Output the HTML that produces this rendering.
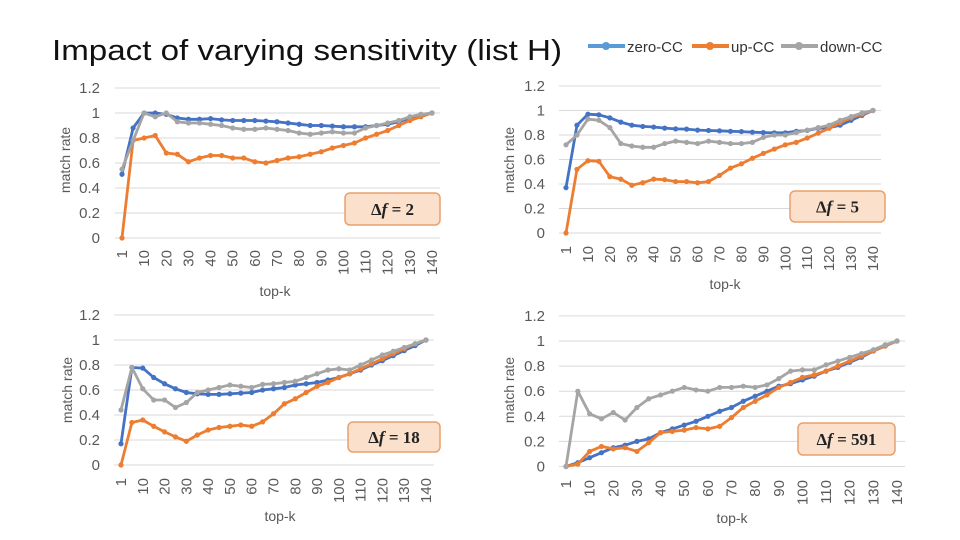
<!DOCTYPE html>
<html><head><meta charset="utf-8"><style>
body{margin:0;background:#fff;width:960px;height:540px;overflow:hidden;font-family:"Liberation Sans",sans-serif}
svg{display:block}
</style></head><body>
<svg id="s" width="960" height="540" viewBox="0 0 960 540">
<text x="52" y="60" font-size="29" fill="#111" textLength="510" lengthAdjust="spacingAndGlyphs">Impact of varying sensitivity (list H)</text>
<g>
<g><line x1="588" y1="46" x2="625" y2="46" stroke="#5b9bd5" stroke-width="4"/><circle cx="606" cy="46" r="4" fill="#5b9bd5"/><text x="627" y="52" font-size="15" fill="#333">zero-CC</text></g>
<g><line x1="692" y1="46" x2="729" y2="46" stroke="#ed7d31" stroke-width="4"/><circle cx="710" cy="46" r="4" fill="#ed7d31"/><text x="731" y="52" font-size="15" fill="#333">up-CC</text></g>
<g><line x1="781" y1="46" x2="818" y2="46" stroke="#a5a5a5" stroke-width="4"/><circle cx="799" cy="46" r="4" fill="#a5a5a5"/><text x="820" y="52" font-size="15" fill="#333">down-CC</text></g>
</g>
</svg>
<script>
const categories=[1,5,10,15,20,25,30,35,40,45,50,55,60,65,70,75,80,85,90,95,100,105,110,115,120,125,130,135,140];
const tickLabels=["1","10","20","30","40","50","60","70","80","90","100","110","120","130","140"];
const yTicks=[0,0.2,0.4,0.6,0.8,1,1.2];
const yTickLabels=["0","0.2","0.4","0.6","0.8","1","1.2"];
const deltaLabels=["2","5","18","591"];
const c1Zero=[0.51,0.88,1.0,1.0,0.99,0.96,0.95,0.95,0.955,0.945,0.94,0.94,0.94,0.935,0.93,0.92,0.91,0.90,0.90,0.895,0.89,0.89,0.89,0.90,0.91,0.93,0.96,0.98,1.0];
const c1Up=[0,0.78,0.80,0.82,0.68,0.67,0.61,0.64,0.66,0.66,0.64,0.64,0.61,0.60,0.62,0.64,0.65,0.67,0.69,0.72,0.74,0.76,0.80,0.83,0.86,0.90,0.94,0.97,1.0];
const c1Down=[0.55,0.78,1.0,0.97,1.0,0.93,0.92,0.92,0.91,0.90,0.88,0.87,0.87,0.88,0.87,0.86,0.84,0.83,0.84,0.85,0.84,0.84,0.88,0.90,0.92,0.94,0.97,0.99,1.0];
const c2Zero=[0.37,0.88,0.97,0.965,0.94,0.905,0.88,0.87,0.865,0.856,0.85,0.848,0.84,0.837,0.834,0.83,0.828,0.823,0.82,0.818,0.818,0.83,0.837,0.855,0.86,0.88,0.92,0.96,1.0];
const c2Up=[0,0.52,0.59,0.585,0.46,0.44,0.39,0.41,0.44,0.435,0.42,0.42,0.41,0.42,0.47,0.53,0.565,0.61,0.65,0.685,0.72,0.74,0.775,0.815,0.855,0.90,0.94,0.97,1.0];
const c2Down=[0.72,0.80,0.93,0.92,0.86,0.73,0.71,0.70,0.70,0.73,0.75,0.74,0.73,0.75,0.74,0.73,0.73,0.74,0.78,0.80,0.80,0.82,0.84,0.86,0.88,0.92,0.95,0.98,1.0];
const c3Zero=[0.17,0.78,0.775,0.70,0.65,0.61,0.58,0.57,0.565,0.565,0.57,0.575,0.58,0.60,0.61,0.62,0.64,0.65,0.66,0.68,0.70,0.73,0.76,0.80,0.835,0.875,0.915,0.955,1.0];
const c3Up=[0,0.34,0.36,0.31,0.265,0.225,0.19,0.24,0.28,0.30,0.31,0.32,0.31,0.345,0.41,0.49,0.53,0.58,0.63,0.66,0.70,0.73,0.77,0.81,0.85,0.89,0.93,0.97,1.0];
const c3Down=[0.44,0.78,0.61,0.52,0.52,0.46,0.50,0.58,0.60,0.62,0.64,0.63,0.62,0.645,0.65,0.66,0.67,0.70,0.73,0.76,0.77,0.76,0.80,0.84,0.88,0.91,0.94,0.97,1.0];
const c4Zero=[0,0.03,0.07,0.11,0.15,0.17,0.20,0.22,0.27,0.30,0.33,0.36,0.40,0.44,0.47,0.52,0.56,0.60,0.64,0.66,0.69,0.72,0.76,0.79,0.83,0.87,0.92,0.96,1.0];
const c4Up=[0,0.02,0.12,0.16,0.14,0.15,0.12,0.19,0.27,0.28,0.29,0.31,0.30,0.32,0.39,0.47,0.52,0.57,0.63,0.67,0.71,0.73,0.76,0.80,0.84,0.88,0.92,0.96,1.0];
const c4Down=[0,0.60,0.42,0.38,0.43,0.37,0.47,0.54,0.57,0.60,0.63,0.61,0.60,0.63,0.63,0.64,0.63,0.65,0.70,0.76,0.77,0.77,0.81,0.84,0.87,0.90,0.93,0.97,1.0];

const layouts=[
 {x0:122,x1:432,y0:238,y1:113,tickR:100,titleX:70,titleY:160,topX:275,topY:296,box:[345,193,95,32],tickTop:250},
 {x0:566,x1:873,y0:233,y1:110.5,tickR:545,titleX:514,titleY:160,topX:725,topY:289,box:[790,191,95,31],tickTop:246},
 {x0:121,x1:426,y0:465,y1:340,tickR:100,titleX:72,titleY:390,topX:280,topY:521,box:[348,422,92,30],tickTop:478},
 {x0:566,x1:897,y0:466.5,y1:341,tickR:545,titleX:514,titleY:390,topX:732,topY:523,box:[798,423,97,32],tickTop:480}
];
const seriesSets=[[c1Zero,c1Up,c1Down],[c2Zero,c2Up,c2Down],[c3Zero,c3Up,c3Down],[c4Zero,c4Up,c4Down]];
const colors=["#4472c4","#ed7d31","#a5a5a5"];
const sNames=["zero-cc","up-cc","down-cc"];
const NS="http://www.w3.org/2000/svg";
const svg=document.getElementById('s');
function mk(tag,attrs,parent){const e=document.createElementNS(NS,tag);for(const k in attrs)e.setAttribute(k,attrs[k]);parent.appendChild(e);return e;}
layouts.forEach((L,ci)=>{
 const g=mk('g',{},svg);
 
 
 const n=categories.length;
 const xs=i=>L.x0+(L.x1-L.x0)*i/(n-1);
 const ys=v=>L.y0-(L.y0-L.y1)*v;
 yTicks.forEach((t,k)=>{
  const ln=mk('line',{x1:L.x0-7,x2:L.x1+8,y1:ys(t),y2:ys(t),stroke:'#d9d9d9','stroke-width':1},g);
  
  
  const tx=mk('text',{x:L.tickR,y:ys(t)+5,'text-anchor':'end','font-size':15,fill:'#595959'},g);
  tx.textContent=yTickLabels[k];
  
  
 });
 tickLabels.forEach((lab,k)=>{
  const x=xs(k*2)+5;
  const tx=mk('text',{x:x,y:L.tickTop,transform:`rotate(-90 ${x} ${L.tickTop})`,'text-anchor':'end','font-size':15,fill:'#595959'},g);
  tx.textContent=lab;
  
  
 });
 const yt=mk('text',{x:L.titleX,y:L.titleY,transform:`rotate(-90 ${L.titleX} ${L.titleY})`,'text-anchor':'middle','font-size':14,fill:'#595959'},g);
 yt.textContent='match rate';
 
 
 const xt=mk('text',{x:L.topX,y:L.topY,'text-anchor':'middle','font-size':14,fill:'#595959'},g);
 xt.textContent='top-k';
 
 
 seriesSets[ci].forEach((vals,si)=>{
  const pts=vals.map((v,i)=>xs(i).toFixed(1)+','+ys(v).toFixed(1)).join(' ');
  const pl=mk('polyline',{points:pts,fill:'none',stroke:colors[si],'stroke-width':2.8,'stroke-linejoin':'round'},g);
  
  
  vals.forEach((v,i)=>{
   const c=mk('circle',{cx:xs(i),cy:ys(v),r:2.6,fill:colors[si]},g);
   
   
  });
 });
 const b=L.box;
 const bg=mk('g',{},g);
 
 
 mk('rect',{x:b[0],y:b[1],width:b[2],height:b[3],rx:5,fill:'#fbe0cc',stroke:'#e8a06e','stroke-width':1.5},bg);
 const tt=mk('text',{x:b[0]+b[2]/2,y:b[1]+b[3]/2+6,'text-anchor':'middle','font-size':17,'font-family':'Liberation Serif, serif','font-weight':'bold',fill:'#222'},bg);
 tt.innerHTML='Δ<tspan font-style="italic">f</tspan> = '+deltaLabels[ci];
});
</script>
</body></html>
